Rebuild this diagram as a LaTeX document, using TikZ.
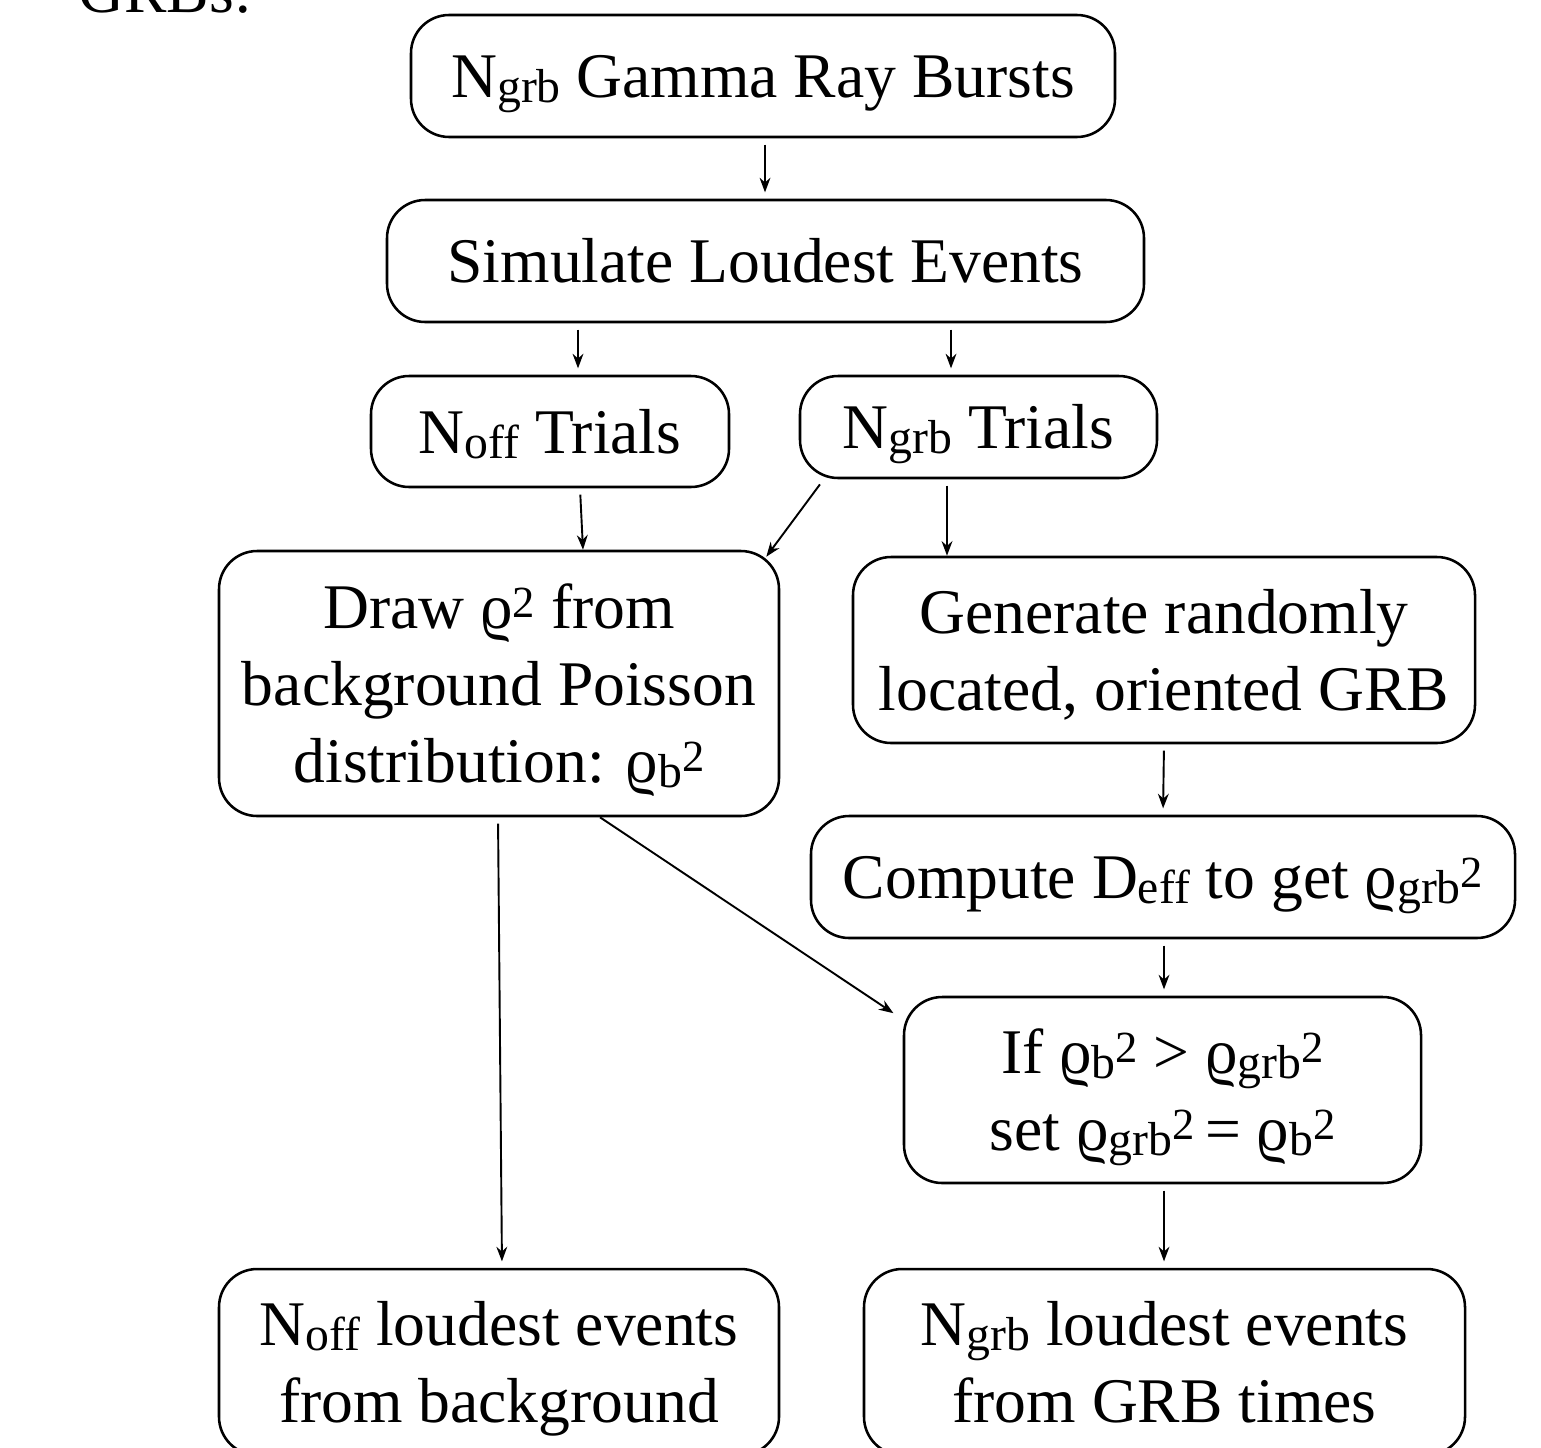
\documentclass[tikz,border=0pt]{standalone}
\usepackage{fontspec}
\setmainfont{Liberation Serif}
\usetikzlibrary{arrows.meta}
\newcommand{\lo}[1]{\raisebox{-1.5pt}{\fontsize{15}{15}\selectfont #1}}
\newcommand{\hi}[1]{\raisebox{3.5pt}{\fontsize{14}{14}\selectfont #1}}
\tikzset{
  txt/.style={font=\fontsize{20}{24.2}\selectfont, inner sep=0pt},
  blk/.style={txt, draw, line width=0.8pt, rounded corners=12pt, align=center,
    text height={15pt+(#1-1)*24.2pt}, text depth=1.2pt},
  blk/.default=1,
  sz/.style 2 args={minimum width=#1*0.3145pt, minimum height=#2*0.3145pt},
  flow/.style={line width=0.6pt, -{Stealth[length=4.6pt,width=3.4pt]}, shorten <=2pt, shorten >=2pt}
}

\begin{document}
\begin{tikzpicture}[x=0.3145pt, y=-0.3145pt]
  \useasboundingbox (0,0) rectangle (1541,1447);
  \clip (0,0) rectangle (1541,1447);

  \node[txt, anchor=base west] (grbs) at (78,12) {GRBs:};

  \node[blk, sz={704}{122}] (bursts) at (763,76) {N\lo{grb} Gamma Ray Bursts};
  \node[blk, sz={757}{122}] (sim) at (765.5,261) {Simulate Loudest Events};
  \node[blk, sz={358}{111}] (offtr) at (550,431.5) {N\lo{off} Trials};
  \node[blk, sz={357}{102}] (grbtr) at (978.5,427) {N\lo{grb} Trials};
  \node[blk=3, sz={560}{265}] (drawrho) at (499,683.5)
    {Draw ϱ\hi{2} from\\ background Poisson\\ distribution: ϱ\lo{b}\hi{2}};
  \node[blk=2, sz={622}{186}] (gen) at (1164,650)
    {Generate randomly\\ located, oriented GRB};
  \node[blk, sz={704}{122}] (deff) at (1163,877)
    {Compute D\lo{eff} to get ϱ\lo{grb}\hi{2}};
  \node[blk=2, sz={517}{186}] (cmp) at (1162.5,1090)
    {If ϱ\lo{b}\hi{2} \textgreater{} ϱ\lo{grb}\hi{2}\\ set ϱ\lo{grb}\hi{2}\,= ϱ\lo{b}\hi{2}};
  \node[blk=2, sz={560}{186}] (offloud) at (499,1362)
    {N\lo{off} loudest events\\ from background};
  \node[blk=2, sz={601}{186}] (grbloud) at (1164.5,1362)
    {N\lo{grb} loudest events\\ from GRB times};

  \draw[flow] (765,0 |- bursts.south) -- (765,0 |- sim.north);
  \draw[flow] (578,0 |- sim.south) -- (578,0 |- offtr.north);
  \draw[flow] (951,0 |- sim.south) -- (951,0 |- grbtr.north);
  \draw[flow, shorten >=0pt] ([shift={(30,0)}]offtr.south) -- ([shift={(84,0)}]drawrho.north);
  \draw[flow, shorten >=0pt] ([shift={(25,0)}]grbtr.south west) -- ([shift={(-14,7)}]drawrho.north east);
  \draw[flow, shorten >=0pt] (947,0 |- grbtr.south) -- (947,0 |- gen.north);
  \draw[flow] (gen.south) -- (deff.north);
  \draw[flow] (1164,0 |- deff.south) -- (1164,0 |- cmp.north);
  \draw[flow, shorten <=0pt] ([shift={(101,0)}]drawrho.south) -- ([shift={(-4,21)}]cmp.north west);
  \draw[flow] ([shift={(-1,0)}]drawrho.south) -- ([shift={(3,0)}]offloud.north);
  \draw[flow] (1164,0 |- cmp.south) -- (1164,0 |- grbloud.north);
\end{tikzpicture}
\end{document}
